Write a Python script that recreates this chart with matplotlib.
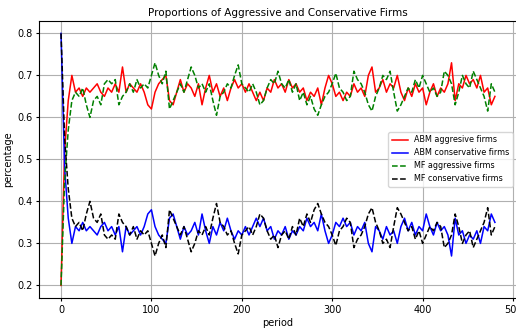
import numpy as np
import matplotlib
matplotlib.use("Agg")
import matplotlib.pyplot as plt

# periods sampled every 4 steps over the 480-period run
periods = np.arange(0, 481, 4)

abm_aggressive = [
    0.20, 0.52, 0.64, 0.70, 0.66, 0.67, 0.65, 0.67, 0.66, 0.67,
    0.68, 0.66, 0.65, 0.67, 0.66, 0.68, 0.66, 0.72, 0.66, 0.68,
    0.67, 0.66, 0.68, 0.66, 0.63, 0.62, 0.66, 0.68, 0.69, 0.70,
    0.64, 0.63, 0.66, 0.69, 0.66, 0.68, 0.67, 0.65, 0.68, 0.63,
    0.67, 0.70, 0.66, 0.68, 0.65, 0.67, 0.64, 0.67, 0.69, 0.67,
    0.68, 0.66, 0.68, 0.66, 0.64, 0.66, 0.64, 0.67, 0.66, 0.69,
    0.67, 0.68, 0.66, 0.69, 0.67, 0.68, 0.66, 0.67, 0.64, 0.66,
    0.65, 0.67, 0.63, 0.67, 0.70, 0.68, 0.65, 0.66, 0.64, 0.66,
    0.65, 0.68, 0.66, 0.67, 0.65, 0.70, 0.72, 0.66, 0.67, 0.69,
    0.66, 0.68, 0.67, 0.70, 0.66, 0.64, 0.67, 0.65, 0.68, 0.66,
    0.67, 0.63, 0.66, 0.68, 0.65, 0.67, 0.66, 0.68, 0.73, 0.64,
    0.68, 0.67, 0.70, 0.68, 0.69, 0.67, 0.70, 0.66, 0.67, 0.63,
    0.65,
]

abm_conservative = [
    0.80, 0.48, 0.36, 0.30, 0.34, 0.33, 0.35, 0.33, 0.34, 0.33,
    0.32, 0.34, 0.35, 0.33, 0.34, 0.32, 0.34, 0.28, 0.34, 0.32,
    0.33, 0.34, 0.32, 0.34, 0.37, 0.38, 0.34, 0.32, 0.31, 0.30,
    0.36, 0.37, 0.34, 0.31, 0.34, 0.32, 0.33, 0.35, 0.32, 0.37,
    0.33, 0.30, 0.34, 0.32, 0.35, 0.33, 0.36, 0.33, 0.31, 0.33,
    0.32, 0.34, 0.32, 0.34, 0.36, 0.34, 0.36, 0.33, 0.34, 0.31,
    0.33, 0.32, 0.34, 0.31, 0.33, 0.32, 0.34, 0.33, 0.36, 0.34,
    0.35, 0.33, 0.37, 0.33, 0.30, 0.32, 0.35, 0.34, 0.36, 0.34,
    0.35, 0.32, 0.34, 0.33, 0.35, 0.30, 0.28, 0.34, 0.33, 0.31,
    0.34, 0.32, 0.33, 0.30, 0.34, 0.36, 0.33, 0.35, 0.32, 0.34,
    0.33, 0.37, 0.34, 0.32, 0.35, 0.33, 0.34, 0.32, 0.27, 0.36,
    0.32, 0.33, 0.30, 0.32, 0.31, 0.33, 0.30, 0.34, 0.33, 0.37,
    0.35,
]

mf_aggressive = [
    0.20, 0.45, 0.57, 0.64, 0.66, 0.65, 0.67, 0.63, 0.60, 0.64,
    0.65, 0.63, 0.68, 0.69, 0.68, 0.69, 0.63, 0.65, 0.66, 0.68,
    0.66, 0.69, 0.67, 0.68, 0.67, 0.70, 0.73, 0.70, 0.68, 0.71,
    0.62, 0.64, 0.66, 0.68, 0.66, 0.69, 0.72, 0.70, 0.67, 0.68,
    0.66, 0.68, 0.64, 0.605, 0.65, 0.66, 0.68, 0.67, 0.70, 0.725,
    0.68, 0.67, 0.66, 0.68, 0.66, 0.63, 0.64, 0.67, 0.69, 0.68,
    0.71, 0.68, 0.67, 0.69, 0.66, 0.68, 0.64, 0.66, 0.63, 0.65,
    0.62, 0.605, 0.63, 0.65, 0.66, 0.68, 0.705, 0.67, 0.66, 0.64,
    0.65, 0.71, 0.69, 0.68, 0.66, 0.63, 0.615, 0.65, 0.67, 0.70,
    0.69, 0.71, 0.66, 0.615, 0.63, 0.65, 0.67, 0.66, 0.69, 0.67,
    0.70, 0.68, 0.66, 0.67, 0.65, 0.66, 0.71, 0.70, 0.68, 0.63,
    0.66, 0.70, 0.68, 0.67, 0.71, 0.69, 0.67, 0.65, 0.615, 0.68,
    0.66,
]

mf_conservative = [
    0.80, 0.55, 0.43, 0.36, 0.34, 0.35, 0.33, 0.37, 0.40, 0.36,
    0.35, 0.37, 0.32, 0.31, 0.32, 0.31, 0.37, 0.35, 0.34, 0.32,
    0.34, 0.31, 0.33, 0.32, 0.33, 0.30, 0.27, 0.30, 0.32, 0.29,
    0.38, 0.36, 0.34, 0.32, 0.34, 0.31, 0.28, 0.30, 0.33, 0.32,
    0.34, 0.32, 0.36, 0.395, 0.35, 0.34, 0.32, 0.33, 0.30, 0.275,
    0.32, 0.33, 0.34, 0.32, 0.34, 0.37, 0.36, 0.33, 0.31, 0.32,
    0.29, 0.32, 0.33, 0.31, 0.34, 0.32, 0.36, 0.34, 0.37, 0.35,
    0.38, 0.395, 0.37, 0.35, 0.34, 0.32, 0.295, 0.33, 0.34, 0.36,
    0.35, 0.29, 0.31, 0.32, 0.34, 0.37, 0.385, 0.35, 0.33, 0.30,
    0.31, 0.29, 0.34, 0.385, 0.37, 0.35, 0.33, 0.34, 0.31, 0.33,
    0.30, 0.32, 0.34, 0.33, 0.35, 0.34, 0.29, 0.30, 0.32, 0.37,
    0.34, 0.30, 0.32, 0.33, 0.29, 0.31, 0.33, 0.35, 0.385, 0.32,
    0.34,
]

plt.rcParams['font.size'] = 7

fig = plt.figure(figsize=(5.16, 3.30), dpi=100)
ax = fig.add_axes([0.0762, 0.097, 0.925, 0.840])

ax.plot(periods, abm_aggressive, color='red', lw=1.1, label='ABM aggresive firms')
ax.plot(periods, abm_conservative, color='blue', lw=1.1, label='ABM conservative firms')
ax.plot(periods, mf_aggressive, color='green', ls='--', lw=1.1, label='MF aggressive firms')
ax.plot(periods, mf_conservative, color='black', ls='--', lw=1.1, label='MF conservative firms')

ax.set_title("Proportions of Aggressive and Conservative Firms", fontsize=7.5, pad=3.5)
ax.set_xlabel("period", labelpad=2.5)
ax.set_ylabel("percentage", labelpad=3)
ax.set_xticks([0, 100, 200, 300, 400, 500])
ax.set_yticks([0.2, 0.3, 0.4, 0.5, 0.6, 0.7, 0.8])
ax.tick_params(length=2.5, pad=2.5)
ax.grid(True)
ax.legend(loc='center right', fontsize=5.8)

fig.savefig("out.png", dpi=100)
